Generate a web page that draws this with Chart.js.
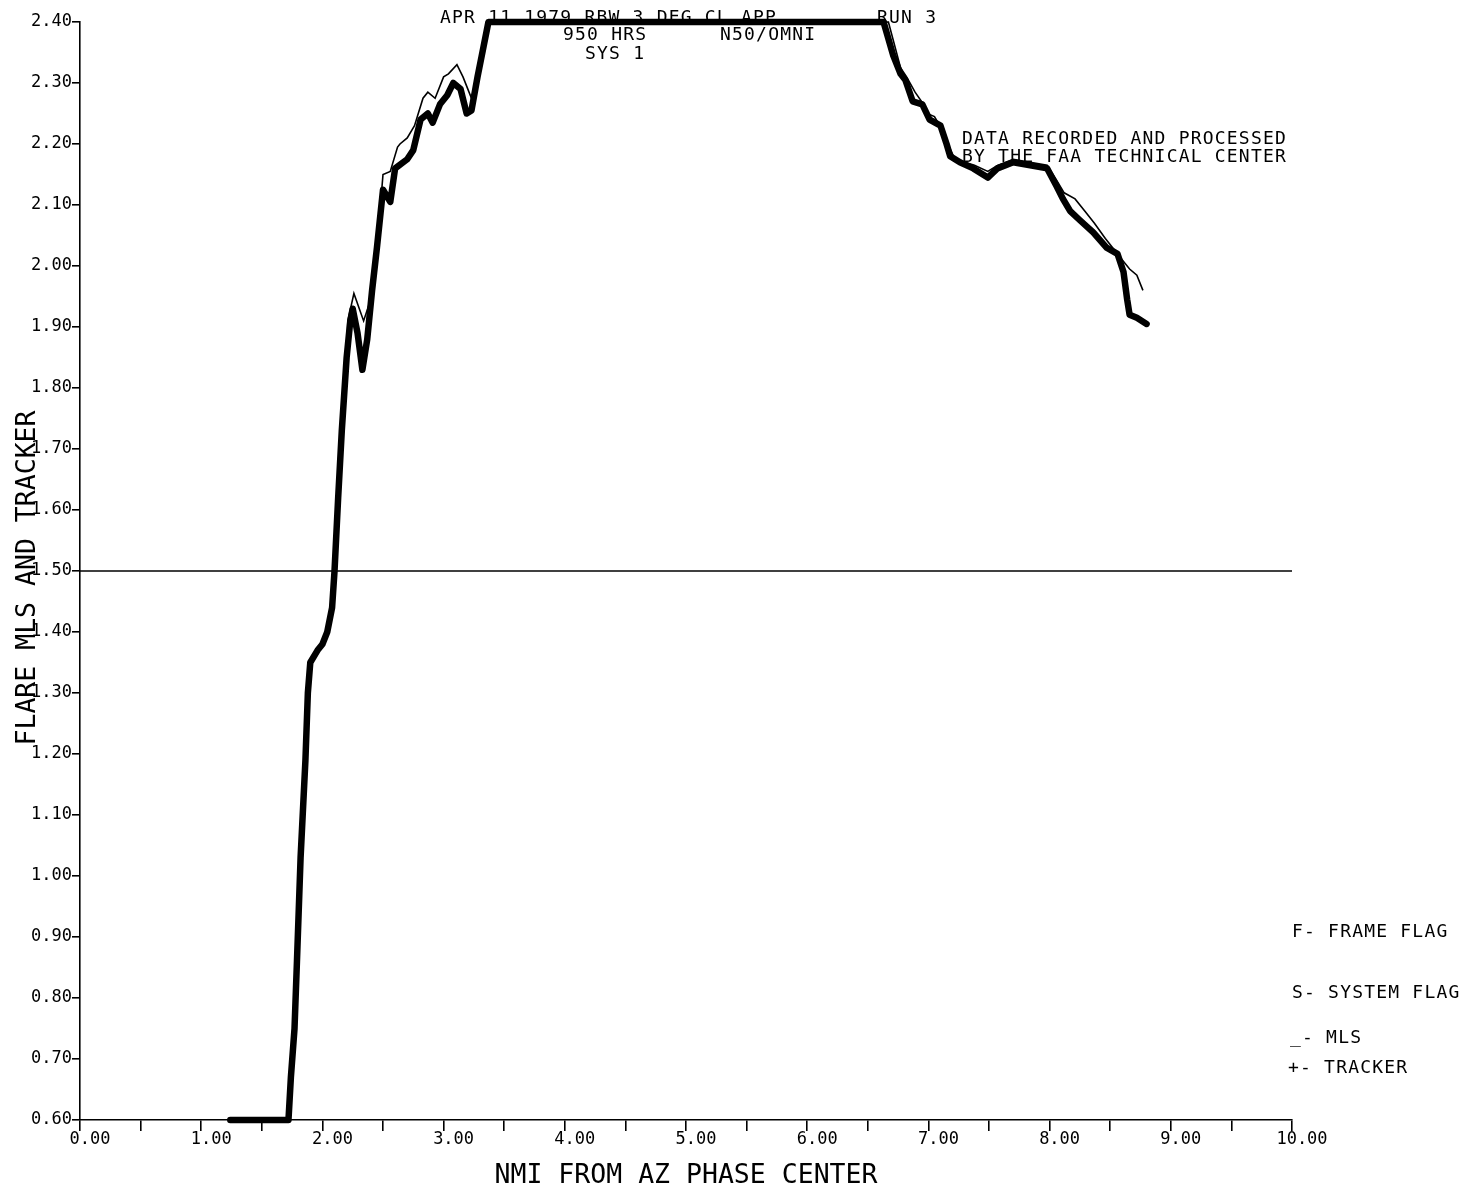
<!DOCTYPE html>
<html>
<head>
<meta charset="utf-8">
<title>Flare MLS and Tracker</title>
<script src="https://cdn.jsdelivr.net/npm/chart.js@4/dist/chart.umd.min.js"></script>
<style>
  html, body { margin: 0; padding: 0; background: #fff; }
  #wrap { width: 1473px; height: 1194px; position: relative; }
</style>
</head>
<body>
<div id="wrap"><canvas id="flare-canvas"></canvas></div>
<script>
// Flare angle vs range plot: MLS (thin) and tracker (heavy) traces

// Tracker trace (NMI, degrees)
var TRACKER_X = [1.24, 1.72, 1.74, 1.77, 1.79, 1.82, 1.86, 1.88, 1.90, 1.96,
                 2.00, 2.04, 2.08, 2.10, 2.13, 2.16, 2.20, 2.23, 2.25, 2.29,
                 2.33, 2.37, 2.41, 2.45, 2.50, 2.56, 2.60, 2.70, 2.75, 2.81,
                 2.87, 2.91, 2.97, 3.03, 3.08, 3.14, 3.19, 3.23, 3.28, 3.33,
                 3.37, 6.63, 6.71, 6.77, 6.81, 6.87, 6.95, 7.01, 7.10, 7.15,
                 7.18, 7.26, 7.37, 7.49, 7.57, 7.70, 7.84, 7.98, 8.06, 8.11,
                 8.17, 8.25, 8.36, 8.47, 8.56, 8.61, 8.64, 8.66, 8.72, 8.80];
var TRACKER_Y = [0.60, 0.60, 0.67, 0.75, 0.86, 1.03, 1.19, 1.30, 1.35, 1.37,
                 1.38, 1.40, 1.44, 1.50, 1.62, 1.73, 1.85, 1.91, 1.93, 1.89,
                 1.83, 1.88, 1.96, 2.03, 2.125, 2.105, 2.16, 2.175, 2.19, 2.24,
                 2.25, 2.235, 2.265, 2.28, 2.30, 2.29, 2.25, 2.255, 2.31, 2.36,
                 2.40, 2.40, 2.345, 2.315, 2.305, 2.27, 2.265, 2.24, 2.23, 2.20,
                 2.18, 2.17, 2.16, 2.145, 2.16, 2.17, 2.165, 2.16, 2.13, 2.11,
                 2.09, 2.075, 2.055, 2.03, 2.02, 1.99, 1.945, 1.92, 1.915, 1.905];

// MLS trace
var MLS_X = [1.24, 1.72, 1.74, 1.77, 1.79, 1.82, 1.86, 1.88, 1.90, 1.96,
             2.00, 2.04, 2.08, 2.10, 2.13, 2.16, 2.20, 2.21, 2.26, 2.34,
             2.39, 2.41, 2.45, 2.50, 2.56, 2.62, 2.64, 2.70, 2.76, 2.83,
             2.87, 2.93, 3.00, 3.04, 3.11, 3.16, 3.20, 3.23, 3.28, 3.33,
             3.37, 6.67, 6.71, 6.77, 6.82, 6.89, 6.96, 6.99, 7.05, 7.11,
             7.16, 7.22, 7.30, 7.38, 7.49, 7.57, 7.70, 7.84, 7.98, 8.06,
             8.12, 8.21, 8.29, 8.37, 8.46, 8.54, 8.60, 8.66, 8.72, 8.77];
var MLS_Y = [0.60, 0.60, 0.67, 0.75, 0.86, 1.03, 1.19, 1.30, 1.35, 1.37,
             1.38, 1.40, 1.44, 1.50, 1.62, 1.73, 1.85, 1.91, 1.955, 1.91,
             1.94, 1.96, 2.03, 2.15, 2.155, 2.195, 2.20, 2.21, 2.23, 2.275,
             2.285, 2.275, 2.31, 2.315, 2.33, 2.31, 2.29, 2.275, 2.31, 2.36,
             2.40, 2.40, 2.37, 2.325, 2.31, 2.285, 2.265, 2.25, 2.245, 2.225,
             2.20, 2.175, 2.17, 2.165, 2.155, 2.165, 2.175, 2.17, 2.165, 2.14,
             2.12, 2.11, 2.09, 2.07, 2.045, 2.025, 2.01, 1.995, 1.985, 1.96];

// 1.50 deg reference line
var REF_X = [0, 10];
var REF_Y = [1.50, 1.50];

// Axis ticks
var X_TICKS = [0, 0.5, 1, 1.5, 2, 2.5, 3, 3.5, 4, 4.5, 5, 5.5, 6, 6.5, 7, 7.5, 8, 8.5, 9, 9.5, 10];
var X_TICK_LABELS = ['0.00', '', '1.00', '', '2.00', '', '3.00', '', '4.00', '', '5.00', '',
                     '6.00', '', '7.00', '', '8.00', '', '9.00', '', '10.00'];
var Y_TICKS = [0.6, 0.7, 0.8, 0.9, 1.0, 1.1, 1.2, 1.3, 1.4, 1.5, 1.6, 1.7, 1.8, 1.9,
               2.0, 2.1, 2.2, 2.3, 2.4];
var Y_TICK_LABELS = ['0.60', '0.70', '0.80', '0.90', '1.00', '1.10', '1.20', '1.30', '1.40',
                     '1.50', '1.60', '1.70', '1.80', '1.90', '2.00', '2.10', '2.20', '2.30', '2.40'];

// Header, credit and flag key text
var HEADER_TEXT = ['APR 11 1979 RBW 3 DEG CL APP', 'RUN 3', '950 HRS', 'N50/OMNI', 'SYS 1'];
var CREDIT_TEXT = ['DATA RECORDED AND PROCESSED', 'BY THE FAA TECHNICAL CENTER'];
var KEY_TEXT = ['F- FRAME FLAG', 'S- SYSTEM FLAG', '_- MLS', '+- TRACKER'];
var Y_TITLE = 'FLARE MLS AND TRACKER';

var MONO = '"DejaVu Sans Mono", "Liberation Mono", monospace';

function toPoints(xs, ys) {
  return xs.map(function(x, i) { return { x: x, y: ys[i] }; });
}

// Plotter annotations drawn on top of the chart
var plotNotes = {
  id: 'plotNotes',
  afterDraw: function(chart) {
    var ctx = chart.ctx;
    var notes = [
      { t: HEADER_TEXT[0], x: 440,  y: 18 },
      { t: HEADER_TEXT[1], x: 877,  y: 18 },
      { t: HEADER_TEXT[2], x: 563,  y: 35 },
      { t: HEADER_TEXT[3], x: 720,  y: 35 },
      { t: HEADER_TEXT[4], x: 585,  y: 54 },
      { t: CREDIT_TEXT[0], x: 1287, y: 139, align: 'right' },
      { t: CREDIT_TEXT[1], x: 1287, y: 157, align: 'right' },
      { t: KEY_TEXT[0],    x: 1292, y: 932 },
      { t: KEY_TEXT[1],    x: 1292, y: 993 },
      { t: KEY_TEXT[2],    x: 1290, y: 1038 },
      { t: KEY_TEXT[3],    x: 1288, y: 1068 },
    ];
    ctx.save();
    ctx.fillStyle = '#000';
    ctx.font = '18px ' + MONO;
    ctx.letterSpacing = '1.2px';
    ctx.textBaseline = 'middle';
    notes.forEach(function(n) {
      ctx.textAlign = n.align || 'left';
      ctx.fillText(n.t, n.x, n.y);
    });

    // Rotated y axis title, centred a little below the plot middle
    ctx.letterSpacing = '0px';
    ctx.font = '26.5px ' + MONO;
    ctx.translate(28, 578);
    ctx.rotate(-Math.PI / 2);
    ctx.textAlign = 'center';
    ctx.fillText(Y_TITLE, 0, 0);
    ctx.restore();
  }
};

function buildChart() {
  var canvas = document.getElementById('flare-canvas');

  new Chart(canvas, {
    type: 'line',
    data: {
      datasets: [
        {
          label: 'TRACKER',
          data: toPoints(TRACKER_X, TRACKER_Y),
          borderColor: '#000',
          borderWidth: 6.5,
          borderJoinStyle: 'round',
          borderCapStyle: 'round',
          pointRadius: 0,
          tension: 0,
          clip: false,
        },
        {
          label: 'MLS',
          data: toPoints(MLS_X, MLS_Y),
          borderColor: '#000',
          borderWidth: 1.6,
          pointRadius: 0,
          tension: 0,
          clip: false,
        },
        {
          label: 'REF',
          data: toPoints(REF_X, REF_Y),
          borderColor: '#000',
          borderWidth: 1.4,
          pointRadius: 0,
          clip: false,
        },
      ],
    },
    options: {
      responsive: true,
      maintainAspectRatio: false,
      animation: false,
      parsing: false,
      layout: { padding: { top: 22, right: 181, bottom: 0, left: 0 } },
      plugins: {
        legend: { display: false },
        tooltip: { enabled: false },
      },
      scales: {
        x: {
          type: 'linear',
          min: 0,
          max: 10,
          afterFit: function(scale) { scale.height = 74; },
          afterBuildTicks: function(scale) {
            scale.ticks = X_TICKS.map(function(v) { return { value: v }; });
          },
          border: { display: true, color: '#000', width: 1.6 },
          grid: {
            display: true,
            drawOnChartArea: false,
            drawTicks: true,
            tickLength: 11,
            color: '#000',
            lineWidth: 1.6,
          },
          ticks: {
            autoSkip: false,
            maxRotation: 0,
            padding: -2,
            labelOffset: 10,
            color: '#000',
            font: { family: MONO, size: 17 },
            callback: function(val, index) { return X_TICK_LABELS[index]; },
          },
          title: {
            display: true,
            text: 'NMI FROM AZ PHASE CENTER',
            color: '#000',
            font: { family: MONO, size: 26.5 },
            padding: { top: 0, bottom: 2 },
          },
        },
        y: {
          type: 'linear',
          min: 0.6,
          max: 2.4,
          afterFit: function(scale) { scale.width = 80; },
          afterBuildTicks: function(scale) {
            scale.ticks = Y_TICKS.map(function(v) { return { value: v }; });
          },
          border: { display: true, color: '#000', width: 1.6 },
          grid: {
            display: true,
            drawOnChartArea: false,
            drawTicks: true,
            tickLength: 8,
            color: '#000',
            lineWidth: 1.6,
          },
          ticks: {
            autoSkip: false,
            padding: 0,
            color: '#000',
            font: { family: MONO, size: 17 },
            callback: function(val, index) { return Y_TICK_LABELS[index]; },
          },
        },
      },
    },
    plugins: [plotNotes],
  });
}

document.addEventListener('DOMContentLoaded', buildChart);
</script>
</body>
</html>
